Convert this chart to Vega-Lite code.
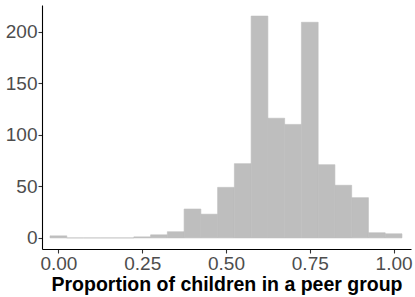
{
  "$schema": "https://vega.github.io/schema/vega-lite/v6.json",
  "width": 369,
  "height": 244,
  "autosize": {"type": "none"},
  "padding": {"left": 42, "top": 5, "right": 4, "bottom": 48},
  "background": "white",
  "config": {
    "view": {"stroke": null},
    "axis": {
      "grid": false,
      "domainColor": "black",
      "domainWidth": 1.1,
      "tickColor": "#333333",
      "tickSize": 4,
      "tickWidth": 1.1,
      "labelColor": "#4D4D4D",
      "labelFont": "Liberation Sans",
      "labelFontSize": 19,
      "labelPadding": 1,
      "titleFont": "Liberation Sans",
      "titleFontSize": 19.5,
      "titleFontWeight": "bold",
      "titleColor": "black"
    }
  },
  "data": {
    "values": [
      {"start": -0.025, "end": 0.025, "count": 2},
      {"start": 0.025, "end": 0.075, "count": 0},
      {"start": 0.075, "end": 0.125, "count": 0},
      {"start": 0.125, "end": 0.175, "count": 0},
      {"start": 0.175, "end": 0.225, "count": 0},
      {"start": 0.225, "end": 0.275, "count": 1},
      {"start": 0.275, "end": 0.325, "count": 3},
      {"start": 0.325, "end": 0.375, "count": 6},
      {"start": 0.375, "end": 0.425, "count": 28},
      {"start": 0.425, "end": 0.475, "count": 23},
      {"start": 0.475, "end": 0.525, "count": 49},
      {"start": 0.525, "end": 0.575, "count": 72},
      {"start": 0.575, "end": 0.625, "count": 215},
      {"start": 0.625, "end": 0.675, "count": 116},
      {"start": 0.675, "end": 0.725, "count": 110},
      {"start": 0.725, "end": 0.775, "count": 209},
      {"start": 0.775, "end": 0.825, "count": 71},
      {"start": 0.825, "end": 0.875, "count": 51},
      {"start": 0.875, "end": 0.925, "count": 39},
      {"start": 0.925, "end": 0.975, "count": 5},
      {"start": 0.975, "end": 1.025, "count": 4}
    ]
  },
  "mark": {"type": "rect", "color": "#BEBEBE", "stroke": "#BEBEBE", "strokeWidth": 0.6},
  "encoding": {
    "x": {
      "field": "start",
      "type": "quantitative",
      "scale": {"domain": [-0.049, 1.052], "nice": false, "zero": false},
      "axis": {"values": [0, 0.25, 0.5, 0.75, 1], "format": ".2f", "title": "Proportion of children in a peer group", "titlePadding": 2}
    },
    "x2": {"field": "end"},
    "y": {
      "field": "count",
      "type": "quantitative",
      "scale": {"domain": [-10.75, 225.75], "nice": false, "zero": false},
      "axis": {"values": [0, 50, 100, 150, 200], "title": null}
    },
    "y2": {"datum": 0}
  }
}
